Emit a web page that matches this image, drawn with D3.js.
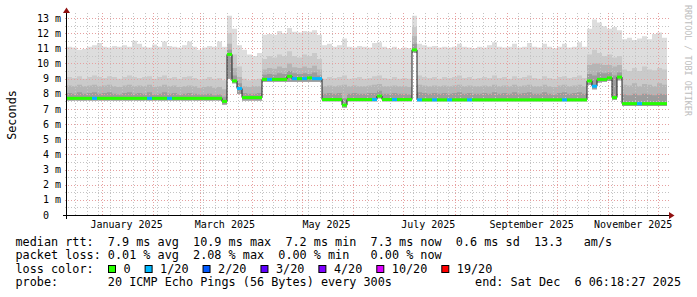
<!DOCTYPE html>
<meta charset="utf-8">
<style>
body { margin: 0; background: #fff; }
svg { display: block; }
text { font-family: "DejaVu Sans Mono", monospace; fill: #000; white-space: pre; }
</style>
<body>
<script src="https://cdn.jsdelivr.net/npm/d3@7/dist/d3.min.js"></script>
<script>

// time span of the graph (last 360 days), 3-day bins
var startTime = new Date(2024, 11, 11, 6, 18, 27);
var endTime = new Date(2025, 11, 6, 6, 18, 27);
var binDays = 3;

// median rtt per bin (ms)
var median = [
  7.7, 7.7, 7.7, 7.7, 7.7, 7.7, 7.7, 7.7, 7.7, 7.7,
  7.7, 7.7, 7.7, 7.7, 7.7, 7.7, 7.7, 7.7, 7.7, 7.7,
  7.7, 7.7, 7.7, 7.7, 7.7, 7.7, 7.7, 7.7, 7.7, 7.7,
  7.7, 7.5, 10.6, 8.85, 8.35, 7.75, 7.75, 7.75, 7.75, 8.95,
  8.95, 8.95, 8.95, 8.95, 9.15, 9.0, 9.0, 9.0, 9.05, 9.0,
  9.0, 7.62, 7.62, 7.62, 7.62, 7.25, 7.62, 7.62, 7.62, 7.62,
  7.62, 7.62, 7.85, 7.62, 7.62, 7.62, 7.62, 7.62, 7.62, 10.9,
  7.6, 7.6, 7.6, 7.6, 7.6, 7.6, 7.6, 7.6, 7.6, 7.6,
  7.6, 7.6, 7.6, 7.6, 7.6, 7.6, 7.6, 7.6, 7.6, 7.6,
  7.6, 7.6, 7.6, 7.6, 7.6, 7.6, 7.6, 7.6, 7.6, 7.6,
  7.6, 7.6, 7.6, 7.6, 8.85, 8.5, 8.95, 8.95, 9.05, 7.75,
  9.1, 7.35, 7.35, 7.35, 7.35, 7.35, 7.35, 7.35, 7.35, 7.35
];

// lost pings (out of 20) per bin
var loss = [
  0, 0, 0, 0, 0, 1, 0, 0, 0, 0,
  0, 0, 0, 0, 0, 0, 1, 0, 0, 0,
  1, 0, 0, 0, 0, 0, 0, 0, 0, 0,
  0, 0, 0, 0, 1, 0, 0, 0, 0, 0,
  1, 0, 0, 0, 0, 1, 0, 1, 0, 1,
  1, 0, 0, 0, 0, 0, 0, 0, 0, 0,
  0, 1, 0, 0, 0, 1, 0, 0, 0, 0,
  1, 0, 0, 1, 0, 0, 1, 0, 0, 0,
  1, 0, 0, 0, 0, 0, 0, 0, 0, 0,
  0, 0, 0, 0, 0, 0, 0, 0, 0, 1,
  0, 0, 0, 0, 0, 1, 0, 0, 0, 0,
  0, 0, 0, 0, 1, 0, 0, 0, 0, 0
];

// smoke: spread of the 20 pings per bin (ms)
var pingMin = [
  7.55, 7.55, 7.55, 7.55, 7.55, 7.55, 7.55, 7.55, 7.55, 7.55,
  7.55, 7.55, 7.55, 7.55, 7.55, 7.55, 7.55, 7.55, 7.55, 7.55,
  7.55, 7.55, 7.55, 7.55, 7.55, 7.55, 7.55, 7.55, 7.55, 7.55,
  7.55, 7.3, 9.0, 8.7, 8.0, 7.55, 7.55, 7.55, 7.55, 8.8,
  8.8, 8.8, 8.8, 8.8, 8.8, 8.8, 8.8, 8.8, 8.8, 8.8,
  8.8, 7.5, 7.5, 7.5, 7.5, 7.1, 7.5, 7.5, 7.5, 7.5,
  7.5, 7.5, 7.7, 7.5, 7.5, 7.5, 7.5, 7.5, 7.5, 10.7,
  7.5, 7.5, 7.5, 7.5, 7.5, 7.5, 7.5, 7.5, 7.5, 7.5,
  7.5, 7.5, 7.5, 7.5, 7.5, 7.5, 7.5, 7.5, 7.5, 7.5,
  7.5, 7.5, 7.5, 7.5, 7.5, 7.5, 7.5, 7.5, 7.5, 7.5,
  7.5, 7.5, 7.5, 7.5, 8.6, 8.3, 8.75, 8.8, 8.85, 7.6,
  8.9, 7.2, 7.2, 7.2, 7.2, 7.2, 7.2, 7.2, 7.2, 7.2
];
var pingQ1 = [
  8.05, 8.0, 8.1, 8.0, 8.05, 8.1, 8.0, 8.05, 8.1, 8.0,
  7.95, 8.05, 8.1, 8.0, 8.05, 8.0, 8.1, 7.95, 8.0, 8.1,
  8.0, 8.05, 7.95, 8.0, 8.05, 8.0, 7.95, 7.95, 8.0, 7.9,
  7.95, 7.8, 10.9, 9.2, 8.7, 8.05, 8.0, 8.0, 8.05, 9.25,
  9.3, 9.25, 9.35, 9.3, 9.5, 9.35, 9.3, 9.35, 9.3, 9.4,
  9.2, 8.0, 8.05, 8.0, 8.05, 7.7, 8.0, 8.05, 8.0, 8.0,
  8.05, 8.05, 8.2, 8.0, 8.0, 8.05, 8.0, 8.0, 7.95, 11.3,
  8.1, 8.05, 8.0, 8.05, 8.0, 8.05, 8.0, 8.05, 8.1, 8.0,
  8.05, 8.0, 8.0, 8.05, 8.0, 8.1, 8.0, 8.05, 8.0, 8.1,
  8.0, 8.05, 8.1, 8.0, 8.0, 8.1, 8.0, 7.95, 8.05, 8.1,
  8.0, 8.05, 8.1, 8.0, 9.3, 9.2, 9.4, 9.35, 9.4, 9.2,
  9.4, 7.95, 7.9, 8.0, 7.9, 8.0, 7.95, 7.9, 8.0, 7.95
];
var pingQ2 = [
  8.55, 8.5, 8.6, 8.5, 8.55, 8.6, 8.5, 8.55, 8.6, 8.5,
  8.45, 8.55, 8.6, 8.5, 8.55, 8.5, 8.6, 8.45, 8.5, 8.6,
  8.5, 8.55, 8.45, 8.5, 8.55, 8.5, 8.4, 8.45, 8.5, 8.4,
  8.45, 8.3, 11.3, 9.7, 9.1, 8.5, 8.45, 8.5, 8.5, 9.6,
  9.7, 9.65, 9.8, 9.7, 10.0, 9.75, 9.7, 9.8, 9.7, 9.85,
  9.6, 8.5, 8.55, 8.5, 8.55, 8.6, 8.5, 8.55, 8.5, 8.5,
  8.55, 8.6, 8.65, 8.5, 8.5, 8.55, 8.5, 8.5, 8.45, 11.8,
  8.6, 8.55, 8.5, 8.55, 8.5, 8.55, 8.5, 8.55, 8.6, 8.5,
  8.55, 8.5, 8.5, 8.55, 8.5, 8.6, 8.5, 8.55, 8.5, 8.6,
  8.5, 8.55, 8.6, 8.5, 8.5, 8.6, 8.5, 8.45, 8.55, 8.6,
  8.5, 8.55, 8.6, 8.5, 9.9, 10.0, 10.0, 9.9, 9.9, 9.8,
  9.9, 8.6, 8.55, 8.7, 8.5, 8.65, 8.6, 8.5, 8.7, 8.6
];
var pingQ3 = [
  9.1, 9.05, 9.15, 9.0, 9.1, 9.2, 9.1, 9.05, 9.15, 9.1,
  9.0, 9.1, 9.2, 9.1, 9.05, 9.1, 9.15, 9.0, 9.1, 9.2,
  9.05, 9.1, 9.0, 9.1, 9.15, 9.05, 8.95, 9.0, 9.1, 9.0,
  9.05, 8.9, 12.0, 10.6, 9.8, 9.0, 8.9, 8.95, 9.0, 10.3,
  10.5, 10.4, 10.6, 10.5, 10.8, 10.5, 10.4, 10.6, 10.5, 10.7,
  10.3, 9.0, 9.1, 9.05, 9.1, 9.2, 9.0, 9.05, 9.1, 9.0,
  9.05, 9.15, 9.2, 9.05, 9.0, 9.1, 9.0, 9.05, 9.0, 12.4,
  9.2, 9.1, 9.05, 9.1, 9.0, 9.1, 9.05, 9.1, 9.2, 9.05,
  9.1, 9.0, 9.05, 9.1, 9.05, 9.2, 9.05, 9.1, 9.0, 9.15,
  9.05, 9.1, 9.2, 9.05, 9.0, 9.15, 9.05, 9.0, 9.1, 9.15,
  9.05, 9.1, 9.2, 9.05, 10.6, 10.9, 10.7, 10.5, 10.6, 10.4,
  10.5, 9.6, 9.5, 9.7, 9.5, 9.8, 9.6, 9.55, 9.7, 9.6
];
var pingMax = [
  11.1, 11.05, 10.9, 10.95, 11.1, 11.2, 11.35, 11.1, 11.05, 11.15,
  11.1, 11.2, 11.1, 11.5, 11.3, 11.1, 11.05, 11.25, 11.1, 11.45,
  11.15, 11.1, 11.05, 11.2, 11.45, 11.1, 10.9, 11.05, 11.15, 11.1,
  11.45, 11.1, 13.15, 12.3, 11.2, 10.9, 10.6, 10.5, 10.7, 11.9,
  11.95, 11.9, 12.15, 12.0, 12.35, 12.1, 12.05, 12.15, 12.1, 12.2,
  11.9, 11.2, 11.3, 11.1, 11.2, 11.65, 11.1, 11.05, 11.15, 11.1,
  11.05, 11.35, 11.4, 11.1, 11.0, 11.1, 10.95, 11.05, 11.0, 13.15,
  11.3, 11.2, 11.1, 11.15, 11.05, 11.1, 11.05, 11.1, 11.3, 11.1,
  11.05, 11.0, 11.1, 11.05, 11.2, 11.4, 11.1, 11.05, 11.1, 11.3,
  11.05, 11.1, 11.35, 11.1, 11.05, 11.3, 11.1, 11.0, 11.1, 11.3,
  11.05, 11.1, 11.4, 11.1, 12.3, 12.9, 12.7, 12.45, 12.3, 12.4,
  12.2, 11.6, 11.7, 11.55, 11.65, 11.8, 11.6, 11.95, 12.05, 11.7
];

// axes
var yMax = 13.2;
var yTicks = [0, 1, 2, 3, 4, 5, 6, 7, 8, 9, 10, 11, 12, 13];
var yTickLabels = ["0  ", "1 m", "2 m", "3 m", "4 m", "5 m", "6 m", "7 m", "8 m", "9 m", "10 m", "11 m", "12 m", "13 m"];
var xLabelMonths = [new Date(2025, 0, 1), new Date(2025, 2, 1), new Date(2025, 4, 1), new Date(2025, 6, 1), new Date(2025, 8, 1), new Date(2025, 10, 1)];

// legend
var lossLabels = ["0", "1/20", "2/20", "3/20", "4/20", "10/20", "19/20"];
var lossLimits = [1, 2, 3, 4, 10, 19];
var lossColors = ["#26ff00", "#00b8ff", "#0059ff", "#5e00ff", "#7e00ff", "#dd00ff", "#ff0000"];
var rttLine = "median rtt:  7.9 ms avg  10.9 ms max  7.2 ms min  7.3 ms now  0.6 ms sd  13.3   am/s";
var lossLine = "packet loss: 0.01 % avg  2.08 % max  0.00 % min   0.00 % now";
var probeLine = "probe:       20 ICMP Echo Pings (56 Bytes) every 300s";
var endLine = "end: Sat Dec  6 06:18:27 2025";

var W = 697, H = 297;
var plotL = 67, plotR = 667, plotT = 15, plotB = 215;

var svg = d3.select("body").append("svg")
    .attr("width", W)
    .attr("height", H);

svg.append("rect").attr("width", W).attr("height", H).attr("fill", "#fff");

var x = d3.scaleTime().domain([startTime, endTime]).range([plotL, plotR]);
var y = d3.scaleLinear().domain([0, yMax]).range([plotB, plotT]);

var bins = median.map(function(m, i) {
    return {
        t: d3.timeDay.offset(startTime, i * binDays),
        med: m, loss: loss[i],
        lo: pingMin[i], q1: pingQ1[i], q2: pingQ2[i], q3: pingQ3[i], hi: pingMax[i]
    };
});
// closing point so the last step reaches the right edge
var stepData = bins.concat([Object.assign({}, bins[bins.length - 1], {t: endTime})]);

// smoke, lightest (widest) first
var layers = [["hi", "#dddddd"], ["q3", "#cacaca"], ["q2", "#b5b5b5"], ["q1", "#9c9c9c"]];
layers.forEach(function(l) {
    var area = d3.area()
        .curve(d3.curveStepAfter)
        .x(function(d) { return x(d.t); })
        .y0(function(d) { return y(d.lo); })
        .y1(function(d) { return y(d[l[0]]); });
    svg.append("path")
        .datum(stepData)
        .attr("d", area)
        .attr("fill", l[1]);
});

// grid
var grid = svg.append("g");
var minorY = d3.range(0.5, yMax, 0.5).filter(function(v) { return v % 1 !== 0; });
grid.selectAll(".ymin").data(minorY).enter().append("line")
    .attr("x1", plotL - 2).attr("x2", plotR + 2)
    .attr("y1", function(d) { return Math.round(y(d)) + 0.5; })
    .attr("y2", function(d) { return Math.round(y(d)) + 0.5; })
    .attr("stroke", "#c4c4c4").attr("stroke-dasharray", "1,2");

var weeks = d3.timeMonday.range(startTime, endTime).filter(function(d) {
    return Math.abs(x(d) - x(d3.timeMonth.round(d))) > 3;
});
grid.selectAll(".xmin").data(weeks).enter().append("line")
    .attr("x1", function(d) { return Math.round(x(d)) + 0.5; })
    .attr("x2", function(d) { return Math.round(x(d)) + 0.5; })
    .attr("y1", plotT - 2).attr("y2", plotB + 2)
    .attr("stroke", "#c4c4c4").attr("stroke-dasharray", "1,2");

grid.selectAll(".ymaj").data(yTicks.slice(1)).enter().append("line")
    .attr("x1", plotL - 2).attr("x2", plotR + 2)
    .attr("y1", function(d) { return Math.round(y(d)) + 0.5; })
    .attr("y2", function(d) { return Math.round(y(d)) + 0.5; })
    .attr("stroke", "#e6a0a0").attr("stroke-dasharray", "1,2");

var months = d3.timeMonth.range(startTime, endTime);
grid.selectAll(".xmaj").data(months).enter().append("line")
    .attr("x1", function(d) { return Math.round(x(d)) + 0.5; })
    .attr("x2", function(d) { return Math.round(x(d)) + 0.5; })
    .attr("y1", plotT - 2).attr("y2", plotB + 2)
    .attr("stroke", "#e6a0a0").attr("stroke-dasharray", "1,2");

// median line and loss coloured median
var medLine = d3.line()
    .curve(d3.curveStepAfter)
    .x(function(d) { return x(d.t); })
    .y(function(d) { return y(d.med); });
svg.append("path")
    .datum(stepData)
    .attr("d", medLine)
    .attr("fill", "none")
    .attr("stroke", "#202020")
    .attr("stroke-width", 1);

var lossColor = d3.scaleThreshold().domain(lossLimits).range(lossColors);
svg.selectAll(".med").data(bins).enter().append("rect")
    .attr("x", function(d) { return x(d.t); })
    .attr("width", function(d) { return x(d3.timeDay.offset(d.t, binDays)) - x(d.t); })
    .attr("y", function(d) { return y(d.med) - 1.5; })
    .attr("height", 3)
    .attr("fill", function(d) { return lossColor(d.loss); });

// axes
svg.append("line")
    .attr("x1", plotL - 4).attr("x2", plotR + 4)
    .attr("y1", plotB + 0.5).attr("y2", plotB + 0.5)
    .attr("stroke", "#000");
svg.append("line")
    .attr("x1", plotL - 0.5).attr("x2", plotL - 0.5)
    .attr("y1", plotB + 4).attr("y2", plotT - 4)
    .attr("stroke", "#000");
svg.append("path")
    .attr("d", "M" + (plotR + 2) + "," + (plotB - 3) + "L" + (plotR + 2) + "," + (plotB + 4) + "L" + (plotR + 7.5) + "," + (plotB + 0.5) + "Z")
    .attr("fill", "#901010");
svg.append("path")
    .attr("d", "M" + (plotL - 4) + "," + (plotT - 2) + "L" + (plotL + 3) + "," + (plotT - 2) + "L" + (plotL - 0.5) + "," + (plotT - 7.5) + "Z")
    .attr("fill", "#901010");

// tick labels
svg.selectAll(".ylab").data(yTicks).enter().append("text")
    .attr("xml:space", "preserve")
    .attr("x", 61)
    .attr("y", function(d) { return y(d) + 3.6; })
    .attr("text-anchor", "end")
    .attr("font-size", "10px")
    .text(function(d, i) { return yTickLabels[i]; });

var fmt = d3.timeFormat("%B %Y");
svg.selectAll(".xlab").data(xLabelMonths).enter().append("text")
    .attr("x", function(d) { return x(d3.timeDay.offset(d, 15)); })
    .attr("y", 228)
    .attr("text-anchor", "middle")
    .attr("font-size", "10px")
    .text(function(d) { return fmt(d); });

svg.append("text")
    .attr("transform", "translate(15.5," + ((plotT + plotB) / 2) + ") rotate(-90)")
    .attr("text-anchor", "middle")
    .attr("font-size", "11.8px")
    .text("Seconds");

svg.append("text")
    .attr("transform", "translate(685,5) rotate(90)")
    .attr("font-size", "8.4px")
    .style("fill", "#bdbdbd")
    .text("RRDTOOL / TOBI OETIKER");

// legend
var leg = svg.append("g").attr("font-size", "11.8px");
function legText(str, lx, ly) {
    return leg.append("text")
        .attr("xml:space", "preserve")
        .attr("x", lx).attr("y", ly)
        .text(str);
}
legText(rttLine, 15.5, 245.5);
legText(lossLine, 15.5, 259);
legText("loss color:", 15.5, 272.5);
legText(probeLine, 15.5, 286);
legText(endLine, 681, 286).attr("text-anchor", "end");

var cx = 108.5;
lossLabels.forEach(function(lab, i) {
    leg.append("rect")
        .attr("x", cx).attr("y", 265.5)
        .attr("width", 7).attr("height", 7)
        .attr("fill", lossColors[i])
        .attr("stroke", "#000");
    var t = legText(lab, cx + 15, 272.5);
    cx = cx + 15 + t.node().getComputedTextLength() + 14.5;
});

</script>
</body>
